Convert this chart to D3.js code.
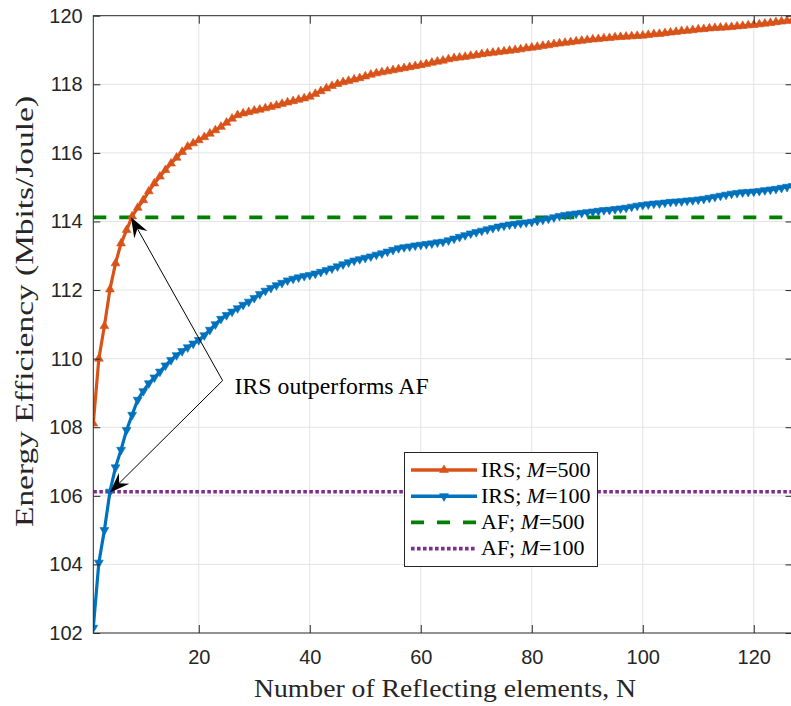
<!DOCTYPE html>
<html>
<head>
<meta charset="utf-8">
<script src="https://cdn.jsdelivr.net/npm/d3@7"></script>
<style>
  html, body { margin: 0; padding: 0; background: #ffffff; }
  svg { display: block; }
</style>
</head>
<body>
<svg id="chart" width="791" height="706"></svg>
<script>
// Number of reflecting elements N = 1..127
const elements = d3.range(1, 128);

// Energy efficiency (Mbits/Joule), IRS with M = 500
const irsM500 = [
  108.11, 110.00, 110.95, 112.02, 112.78, 113.36, 113.75, 114.15, 114.40, 114.62,
  114.88, 115.11, 115.31, 115.50, 115.69, 115.86, 116.03, 116.18, 116.28, 116.37,
  116.46, 116.56, 116.66, 116.76, 116.88, 117.00, 117.10, 117.15, 117.19, 117.23,
  117.26, 117.30, 117.34, 117.38, 117.43, 117.47, 117.51, 117.55, 117.59, 117.64,
  117.72, 117.80, 117.88, 117.95, 118.01, 118.06, 118.10, 118.14, 118.18, 118.23,
  118.28, 118.32, 118.35, 118.38, 118.41, 118.44, 118.47, 118.50, 118.53, 118.56,
  118.59, 118.63, 118.66, 118.69, 118.73, 118.76, 118.78, 118.80, 118.83, 118.85,
  118.88, 118.90, 118.92, 118.94, 118.96, 118.98, 119.00, 119.02, 119.05, 119.07,
  119.09, 119.12, 119.14, 119.17, 119.19, 119.21, 119.23, 119.25, 119.27, 119.29,
  119.31, 119.32, 119.34, 119.35, 119.37, 119.38, 119.39, 119.40, 119.41, 119.42,
  119.44, 119.46, 119.47, 119.49, 119.51, 119.53, 119.55, 119.56, 119.58, 119.60,
  119.61, 119.63, 119.64, 119.65, 119.66, 119.67, 119.69, 119.70, 119.72, 119.73,
  119.75, 119.77, 119.79, 119.81, 119.83, 119.85, 119.87
];

// Energy efficiency (Mbits/Joule), IRS with M = 100
const irsM100 = [
  102.15, 104.05, 105.00, 106.12, 106.83, 107.34, 107.92, 108.36, 108.80, 109.05,
  109.28, 109.45, 109.62, 109.80, 109.96, 110.10, 110.22, 110.33, 110.44, 110.54,
  110.68, 110.84, 111.00, 111.16, 111.27, 111.37, 111.47, 111.57, 111.66, 111.77,
  111.88, 111.98, 112.06, 112.14, 112.21, 112.28, 112.33, 112.37, 112.41, 112.44,
  112.48, 112.53, 112.58, 112.63, 112.69, 112.75, 112.81, 112.86, 112.90, 112.94,
  112.98, 113.03, 113.07, 113.12, 113.17, 113.22, 113.25, 113.27, 113.30, 113.32,
  113.34, 113.36, 113.39, 113.41, 113.45, 113.50, 113.55, 113.60, 113.65, 113.69,
  113.73, 113.77, 113.81, 113.85, 113.88, 113.91, 113.93, 113.95, 113.97, 113.99,
  114.02, 114.05, 114.08, 114.12, 114.16, 114.19, 114.21, 114.23, 114.25, 114.27,
  114.29, 114.31, 114.33, 114.34, 114.36, 114.38, 114.40, 114.43, 114.46, 114.48,
  114.50, 114.52, 114.53, 114.55, 114.57, 114.58, 114.59, 114.61, 114.62, 114.64,
  114.66, 114.69, 114.72, 114.75, 114.78, 114.81, 114.83, 114.85, 114.86, 114.87,
  114.89, 114.91, 114.93, 114.95, 114.98, 115.01, 115.03
];

// AF relaying baselines (constant in N)
const afM500 = 114.12;
const afM100 = 106.12;

// Axis ticks
const xTicks = [20, 40, 60, 80, 100, 120];
const yTicks = [102, 104, 106, 108, 110, 112, 114, 116, 118, 120];

// Legend entries
const legendKeys = ["irs500", "irs100", "af500", "af100"];
const legendLabels = ["500", "100", "500", "100"];
const legendPrefixes = ["IRS; ", "IRS; ", "AF; ", "AF; "];

// Annotation: callout text, elbow point and the two arrow tips (data units)
const noteText = "IRS outperforms AF";
const noteElbow = [24.3, 109.36];
const noteTips = [[7.8, 114.12], [4.0, 106.10]];

// ---------------------------------------------------------------------------
const svg = d3.select("#chart");
const plotLeft = 93.3, plotRight = 792.6, plotTop = 15.7, plotBottom = 633;
const x = d3.scaleLinear().domain([1, 127]).range([plotLeft, plotRight]);
const y = d3.scaleLinear().domain([102, 120]).range([plotBottom, plotTop]);

const axisColor = "#262626";
const gridColor = "#e3e3e3";
const orange = "#D95319", blue = "#0072BD", green = "#008000", purple = "#7E2F8E";

svg.append("rect").attr("width", 791).attr("height", 706).attr("fill", "#fff");

// grid
const grid = svg.append("g");
grid.selectAll("line.gx").data(xTicks).join("line")
  .attr("x1", d => x(d)).attr("x2", d => x(d))
  .attr("y1", plotTop).attr("y2", plotBottom)
  .attr("stroke", gridColor).attr("stroke-width", 1);
grid.selectAll("line.gy").data(yTicks.slice(1, -1)).join("line")
  .attr("x1", plotLeft).attr("x2", plotRight)
  .attr("y1", d => y(d)).attr("y2", d => y(d))
  .attr("stroke", gridColor).attr("stroke-width", 1);

// clip for plotted data
svg.append("defs").append("clipPath").attr("id", "plotClip")
  .append("rect").attr("x", plotLeft).attr("y", plotTop - 6)
  .attr("width", plotRight - plotLeft + 1).attr("height", plotBottom - plotTop + 12);

const plot = svg.append("g").attr("clip-path", "url(#plotClip)");

// AF baselines
plot.append("line")
  .attr("x1", plotLeft).attr("x2", plotRight)
  .attr("y1", y(afM500)).attr("y2", y(afM500))
  .attr("stroke", green).attr("stroke-width", 3.6)
  .attr("stroke-dasharray", "13,13");
plot.append("line")
  .attr("x1", plotLeft).attr("x2", plotRight)
  .attr("y1", y(afM100)).attr("y2", y(afM100))
  .attr("stroke", purple).attr("stroke-width", 3.6)
  .attr("stroke-dasharray", "3.6,2.4");

const line = d3.line().x((d, i) => x(elements[i])).y(d => y(d));
const tri = d3.symbol(d3.symbolTriangle, 34)();

function drawSeries(values, color, rot) {
  plot.append("path").datum(values)
    .attr("d", line)
    .attr("fill", "none").attr("stroke", color)
    .attr("stroke-width", 3.2).attr("stroke-linejoin", "round");
  plot.append("g").selectAll("path").data(values).join("path")
    .attr("d", tri)
    .attr("transform", (d, i) => `translate(${x(elements[i])},${y(d)}) rotate(${rot})`)
    .attr("fill", color).attr("stroke", color).attr("stroke-width", 0.6);
}
drawSeries(irsM500, orange, 0);
drawSeries(irsM100, blue, 180);

// axes (inward ticks on all four sides)
const fontAxis = "'Liberation Sans', Arial, Helvetica, sans-serif";
const gx = svg.append("g").attr("transform", `translate(0,${plotBottom})`)
  .call(d3.axisBottom(x).tickValues(xTicks).tickSizeInner(-8).tickSizeOuter(0).tickPadding(17));
const gy = svg.append("g").attr("transform", `translate(${plotLeft},0)`)
  .call(d3.axisLeft(y).tickValues(yTicks).tickSizeInner(-7).tickSizeOuter(0).tickPadding(10.6));
const gxt = svg.append("g").attr("transform", `translate(0,${plotTop})`)
  .call(d3.axisTop(x).tickValues(xTicks).tickSizeInner(-8).tickSizeOuter(0).tickFormat(""));
const gyr = svg.append("g").attr("transform", `translate(${plotRight},0)`)
  .call(d3.axisRight(y).tickValues(yTicks).tickSizeInner(-7).tickSizeOuter(0).tickFormat(""));
[gx, gy, gxt, gyr].forEach(g => {
  g.select(".domain").remove();
  g.selectAll("line").attr("stroke", axisColor).attr("stroke-width", 1);
  g.selectAll("text").attr("fill", axisColor)
    .style("font-family", fontAxis).style("font-size", "20px");
});

// axes box
svg.append("rect")
  .attr("x", plotLeft).attr("y", plotTop)
  .attr("width", plotRight - plotLeft).attr("height", plotBottom - plotTop)
  .attr("fill", "none").attr("stroke", axisColor).attr("stroke-width", 1);

// axis titles
const fontSerif = "'Liberation Serif', 'Times New Roman', serif";
svg.append("text")
  .attr("x", 445).attr("y", 697)
  .attr("text-anchor", "middle")
  .attr("textLength", 382).attr("lengthAdjust", "spacingAndGlyphs")
  .style("font-family", fontSerif).style("font-size", "25px").attr("fill", axisColor)
  .text("Number of Reflecting elements, N");
svg.append("text")
  .attr("transform", "translate(33,311.5) rotate(-90)")
  .attr("text-anchor", "middle")
  .attr("textLength", 431).attr("lengthAdjust", "spacingAndGlyphs")
  .style("font-family", fontSerif).style("font-size", "25px").attr("fill", axisColor)
  .text("Energy Efficiency (Mbits/Joule)");

// callout with arrows
const ann = svg.append("g");
const ex = x(noteElbow[0]), ey = y(noteElbow[1]);
noteTips.forEach(t => {
  const tx = x(t[0]), ty = y(t[1]);
  const dx = tx - ex, dy = ty - ey, len = Math.hypot(dx, dy);
  const ux = dx / len, uy = dy / len, nx = -uy, ny = ux;
  const L = 20, W = 7.5, notch = 13;
  ann.append("line")
    .attr("x1", ex).attr("y1", ey)
    .attr("x2", tx - notch * ux).attr("y2", ty - notch * uy)
    .attr("stroke", "#000").attr("stroke-width", 1);
  const pts = [
    [tx, ty],
    [tx - L * ux + W * nx, ty - L * uy + W * ny],
    [tx - notch * ux, ty - notch * uy],
    [tx - L * ux - W * nx, ty - L * uy - W * ny]
  ];
  ann.append("path").attr("d", "M" + pts.map(p => p.join(",")).join("L") + "Z")
    .attr("fill", "#000");
});
ann.append("text")
  .attr("x", ex + 12).attr("y", ey + 13.5)
  .attr("textLength", 194).attr("lengthAdjust", "spacingAndGlyphs")
  .style("font-family", fontSerif).style("font-size", "24px").attr("fill", "#000")
  .text(noteText);

// legend
const lg = svg.append("g");
lg.append("rect")
  .attr("x", 404.5).attr("y", 452.5).attr("width", 193).attr("height", 114)
  .attr("fill", "#fff").attr("stroke", axisColor).attr("stroke-width", 1);
const legendStyle = {
  irs500: { color: orange, dash: null, rot: 0 },
  irs100: { color: blue, dash: null, rot: 180 },
  af500: { color: green, dash: "13,13", rot: null },
  af100: { color: purple, dash: "3.6,2.4", rot: null }
};
legendKeys.forEach((k, i) => {
  const cy = 470 + i * 26.2;
  const st = legendStyle[k];
  lg.append("line")
    .attr("x1", 411).attr("x2", 477).attr("y1", cy).attr("y2", cy)
    .attr("stroke", st.color).attr("stroke-width", 3.6)
    .attr("stroke-dasharray", st.dash);
  if (st.rot !== null) {
    lg.append("path").attr("d", tri)
      .attr("transform", `translate(444,${cy}) rotate(${st.rot})`)
      .attr("fill", st.color).attr("stroke", st.color).attr("stroke-width", 0.6);
  }
  const t = lg.append("text").attr("x", 481).attr("y", cy + 6.5)
    .style("font-family", fontSerif).style("font-size", "22px").attr("fill", "#000");
  t.append("tspan").text(legendPrefixes[i]);
  t.append("tspan").style("font-style", "italic").text("M");
  t.append("tspan").text("=" + legendLabels[i]);
});
</script>
</body>
</html>
